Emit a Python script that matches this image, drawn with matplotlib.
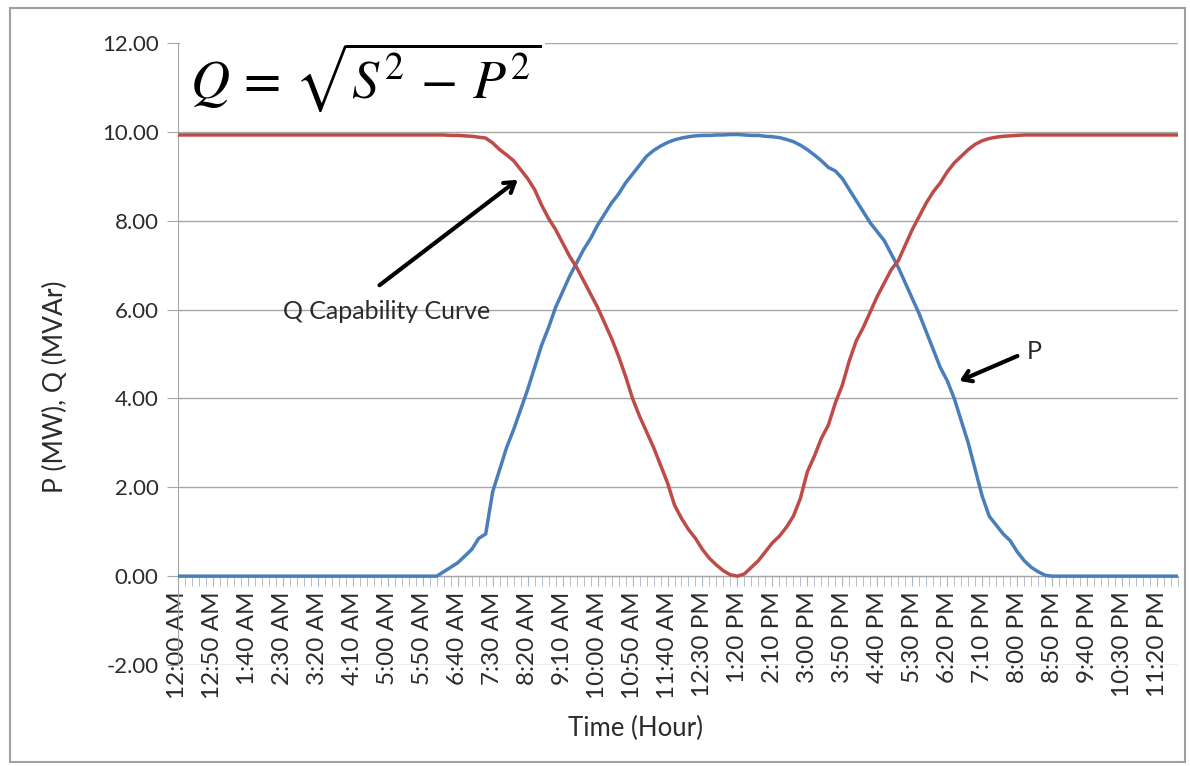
import matplotlib
matplotlib.use("Agg")
from matplotlib import pyplot as plt
from matplotlib.patches import Rectangle
from matplotlib.ticker import FormatStrFormatter, MultipleLocator

plt.rcParams['font.family'] = ['Lato', 'DejaVu Sans']
plt.rcParams['mathtext.fontset'] = 'stix'

# 10-minute samples, 12:00 AM .. 11:50 PM
p_mw = [0.0] * 38 + [
    0.1, 0.2, 0.3, 0.45, 0.6, 0.85, 0.95, 1.9, 2.4, 2.9,
    3.3, 3.75, 4.2, 4.7, 5.2, 5.6, 6.05, 6.4, 6.75, 7.05,
    7.35, 7.6, 7.9, 8.15, 8.4, 8.6, 8.85, 9.05, 9.25, 9.45,
    9.58, 9.68, 9.76, 9.82, 9.86, 9.89, 9.91, 9.92, 9.92, 9.93,
    9.93, 9.94, 9.94, 9.93, 9.92, 9.92, 9.9, 9.89, 9.87, 9.83,
    9.78, 9.7, 9.6, 9.48, 9.35, 9.2, 9.12, 8.95, 8.7, 8.45,
    8.2, 7.95, 7.75, 7.55, 7.25, 6.95, 6.6, 6.25, 5.9, 5.5,
    5.1, 4.7, 4.4, 4.0, 3.5, 3.0, 2.4, 1.8, 1.35, 1.15,
    0.95, 0.8, 0.55, 0.35, 0.2, 0.1, 0.02] + [0.0] * 19

q_mvar = [9.93] * 39 + [
    9.92, 9.92, 9.91, 9.9, 9.88, 9.86, 9.75, 9.6, 9.48, 9.35,
    9.15, 8.95, 8.7, 8.35, 8.05, 7.8, 7.5, 7.2, 6.95, 6.65,
    6.35, 6.05, 5.7, 5.35, 4.95, 4.5, 4.0, 3.6, 3.25, 2.9,
    2.5, 2.1, 1.6, 1.3, 1.05, 0.85, 0.6, 0.4, 0.25, 0.12,
    0.03, 0.0, 0.05, 0.2, 0.35, 0.55, 0.75, 0.9, 1.1, 1.35,
    1.75, 2.35, 2.7, 3.1, 3.4, 3.9, 4.3, 4.85, 5.3, 5.6,
    5.95, 6.3, 6.6, 6.9, 7.1, 7.45, 7.8, 8.1, 8.4, 8.65,
    8.85, 9.1, 9.3, 9.45, 9.6, 9.72, 9.8, 9.85, 9.88, 9.9,
    9.91, 9.92] + [9.93] * 23

time_labels = ['12:00 AM', '12:50 AM', '1:40 AM', '2:30 AM', '3:20 AM',
               '4:10 AM', '5:00 AM', '5:50 AM', '6:40 AM', '7:30 AM',
               '8:20 AM', '9:10 AM', '10:00 AM', '10:50 AM', '11:40 AM',
               '12:30 PM', '1:20 PM', '2:10 PM', '3:00 PM', '3:50 PM',
               '4:40 PM', '5:30 PM', '6:20 PM', '7:10 PM', '8:00 PM',
               '8:50 PM', '9:40 PM', '10:30 PM', '11:20 PM']

x = list(range(len(p_mw)))

W, H = 1190, 766
fig = plt.figure(figsize=(W / 100, H / 100), dpi=100)
ax = fig.add_axes([178 / W, 101 / H, 1000 / W, 622 / H])

ax.plot(x, p_mw, color='#4A7EBB', lw=2.5, zorder=3)
ax.plot(x, q_mvar, color='#BE4B48', lw=2.5, zorder=4)

ax.set_xlim(0, len(x) - 1)
ax.set_ylim(-2, 12)
ax.yaxis.set_major_locator(MultipleLocator(2))
ax.yaxis.set_major_formatter(FormatStrFormatter('%.2f'))
ax.grid(axis='y', color='#A6A6A6', lw=1)
ax.set_axisbelow(True)

ax.set_xticks(x[::5])
ax.set_xticks(x, minor=True)
ax.set_xticklabels(time_labels)

for s in ['top', 'right']:
    ax.spines[s].set_visible(False)
ax.spines['bottom'].set_position(('data', 0))
ax.spines['bottom'].set_color('#A6A6A6')
ax.spines['left'].set_color('#A6A6A6')

ax.tick_params(axis='x', which='both', direction='out', length=7,
               color='#A9B4C4', labelsize=17.5, pad=4, labelcolor='#2b2b2b',
               labelrotation=90)
ax.tick_params(axis='y', direction='out', length=8, color='#A6A6A6',
               labelsize=16, labelcolor='#2b2b2b', pad=6)

fig.text(55 / W, 1 - 387 / H, 'P (MW), Q (MVAr)', rotation=90,
         ha='center', va='center', fontsize=19, color='#2b2b2b')
fig.text(635 / W, 1 - 728 / H, 'Time (Hour)', ha='center', va='center',
         fontsize=18.5, color='#2b2b2b')

# annotations
ax.annotate('', xy=(48.9, 8.96), xytext=(28.5, 6.51),
            arrowprops=dict(arrowstyle='->,head_length=0.7,head_width=0.45',
                            lw=3, color='black'), zorder=6)
ax.text(29.9, 5.95, 'Q Capability Curve', ha='center', va='center',
        fontsize=18, color='#2b2b2b', zorder=6)
ax.annotate('', xy=(111.4, 4.37), xytext=(120.4, 4.98),
            arrowprops=dict(arrowstyle='->,head_length=0.6,head_width=0.4',
                            lw=3, color='black'), zorder=6)
ax.text(121.3, 5.05, 'P', ha='left', va='center', fontsize=18,
        color='#2b2b2b', zorder=6)

# formula box
fig.patches.append(Rectangle((180 / W, 1 - 125 / H), 365 / W, 85 / H,
                             transform=fig.transFigure, facecolor='white',
                             edgecolor='none', zorder=1))
fig.text(190 / W, 1 - 99 / H, r'$Q\,=\,\sqrt{S^2\,-\,P^2}$', fontsize=39,
         va='baseline', ha='left', color='black', zorder=2)

# outer frame
fig.patches.append(Rectangle((10 / W, 4 / H), 1175 / W, 754 / H,
                             transform=fig.transFigure, fill=False,
                             edgecolor='#A0A0A0', lw=1.5, zorder=1))

fig.savefig('out.png', dpi=100)
